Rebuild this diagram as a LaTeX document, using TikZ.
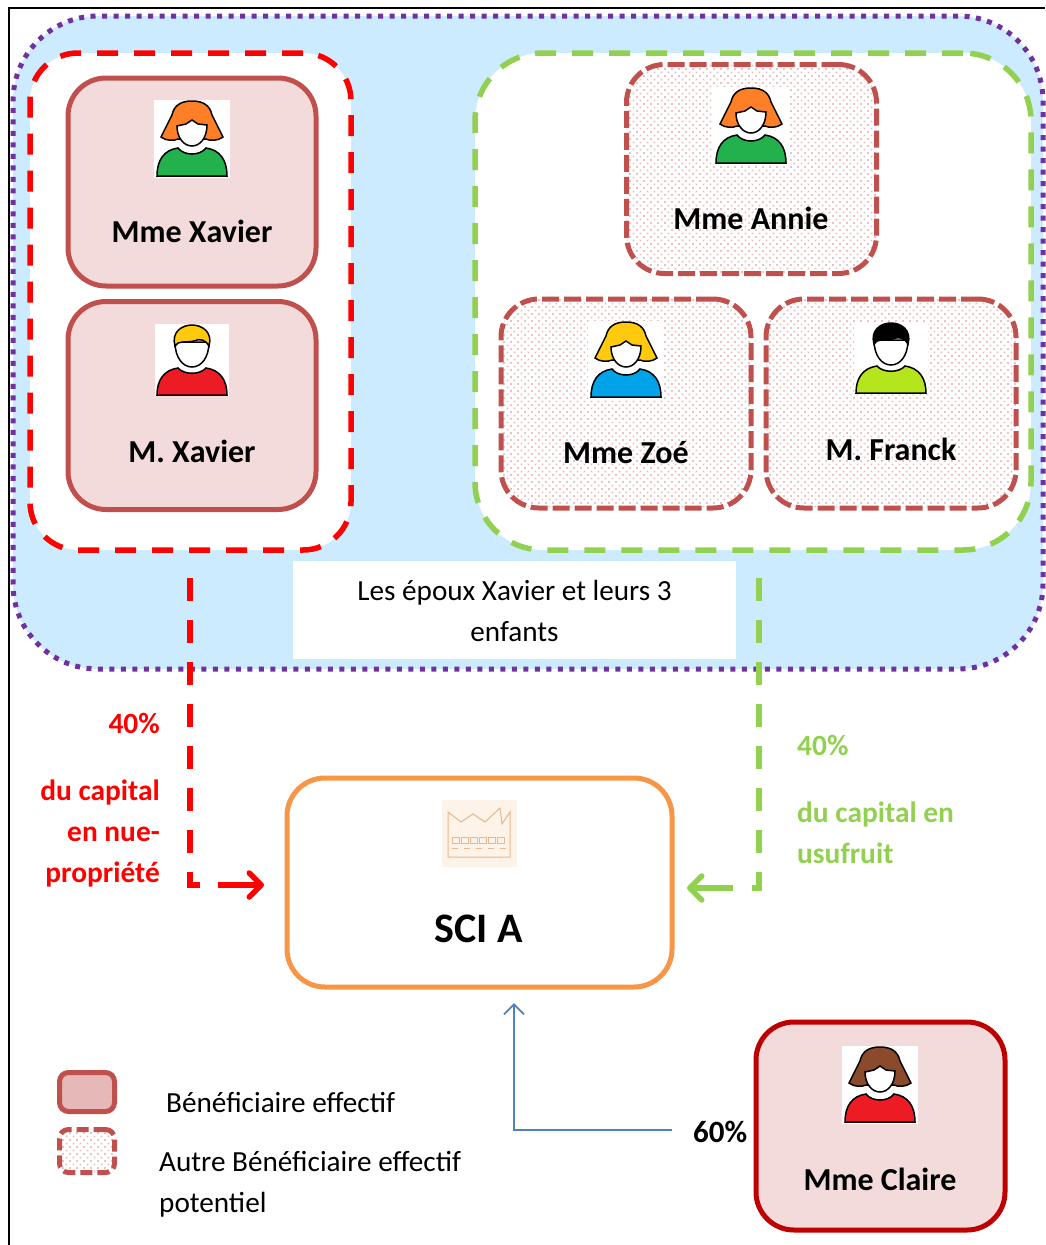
\documentclass[tikz,border=0pt]{standalone}
\usepackage{fontspec}
\setmainfont{Carlito}
\usetikzlibrary{arrows.meta,patterns.meta}
\definecolor{ciel}{HTML}{CCEBFF}
\definecolor{violet}{HTML}{7030A0}
\definecolor{vert}{HTML}{92D050}
\definecolor{brique}{HTML}{C0504D}
\definecolor{rose}{HTML}{F4DBDB}
\definecolor{orange}{HTML}{F79646}
\definecolor{bleu}{HTML}{4F81BD}
\definecolor{roux}{HTML}{FF7F27}
\definecolor{blond}{HTML}{FFC90E}
\definecolor{chatain}{HTML}{8B4A2B}
\definecolor{pullvert}{HTML}{22B14C}
\definecolor{pullrouge}{HTML}{ED1C24}
\definecolor{pullbleu}{HTML}{00A2E8}
\definecolor{pullanis}{HTML}{B5E61D}
\tikzset{
  family/.style={draw,fill=white,line width=5.5pt,rounded corners=48pt,dash pattern=on 21pt off 16pt,inner sep=0pt},
  solidbox/.style={draw=brique,fill=rose,line width=5pt,rounded corners=38pt,minimum width=248pt,minimum height=208pt,inner sep=0pt},
  dotbox/.style={draw=brique,line width=5pt,rounded corners=38pt,minimum width=250pt,minimum height=209pt,inner sep=0pt,dash pattern=on 17pt off 5pt,
    preaction={fill=white},preaction={pattern={Dots[distance=4.95pt,angle=45,radius=1.3pt]},pattern color=brique!35}},
  namelabel/.style={font=\bfseries\fontsize{32}{32}\selectfont,inner sep=0pt},
  plain/.style={font=\fontsize{29.2}{41}\selectfont,inner sep=0pt},
  share/.style={font=\bfseries\fontsize{29.4}{41}\selectfont,inner sep=0pt},
  link/.style={line width=5.5pt,dash pattern=on 23pt off 19pt},
  head/.style={line width=5.5pt,-{Straight Barb[length=12pt,width=24pt,round]}}
}
\begin{document}
\begin{tikzpicture}[x=1pt,y=-1pt]
% #1 centre, #2 top, #3 hair, #4 shirt
\newcommand{\Woman}[4]{
  \begin{scope}[shift={(#1,#2)},draw=black,line width=1.5pt]
    \fill[white] (-38,0) rectangle (38,78);
    \draw[fill=#3] (0,1) .. controls (-12,1) and (-18,6) .. (-20,15) -- (-31,37) .. controls (-26,41) and (-18,41) .. (-14,39) -- (14,39) .. controls (18,41) and (26,41) .. (31,37) -- (20,15) .. controls (18,6) and (12,1) .. (0,1) -- cycle;
    \draw[fill=white] (-15,26) -- (-6,24) -- (0,20) -- (6,24) -- (15,25) .. controls (15,38) and (8,46) .. (0,46) .. controls (-8,46) and (-15,38) .. (-15,26) -- cycle;
    \draw[fill=#4] (-35,76) .. controls (-35,60) and (-28,50) .. (-14,48) .. controls (-8,56) and (8,56) .. (14,48) .. controls (28,50) and (35,60) .. (35,76) -- cycle;
  \end{scope}
}
\newcommand{\Man}[4]{
  \begin{scope}[shift={(#1,#2)},draw=black,line width=1.5pt]
    \fill[white] (-37,0) rectangle (37,72);
    \draw[fill=white] (-17,18) .. controls (-17,34) and (-9,43) .. (0,43) .. controls (9,43) and (17,34) .. (17,18) -- cycle;
    \draw[fill=#3] (-17,22) .. controls (-21,8) and (-10,1) .. (0,1) .. controls (10,1) and (21,8) .. (17,22) .. controls (14,16) and (8,14) .. (2,17) .. controls (-6,19) and (-14,16) .. (-17,22) -- cycle;
    \draw[fill=#4] (-35,71) .. controls (-35,56) and (-28,46) .. (-14,44) .. controls (-8,51) and (8,51) .. (14,44) .. controls (28,46) and (35,56) .. (35,71) -- cycle;
  \end{scope}
}
\useasboundingbox (0,0) rectangle (1045,1245);
\fill[white] (0,0) rectangle (1045,1245);
\draw[line width=2.5pt] (9,1245) -- (9,8) -- (1045,8);

% the family group
\node[draw=violet,fill=ciel,line width=5pt,rounded corners=85pt,dash pattern=on 5pt off 6.5pt,minimum width=1030pt,minimum height=653pt] (famille) at (528,342.5) {};
\node[family,draw=red,minimum width=321pt,minimum height=497pt] (parents) at (190.5,301.5) {};
\node[family,draw=vert,rounded corners=68pt,minimum width=556pt,minimum height=497pt] (enfants) at (753,301.5) {};
\node[fill=white,minimum width=443pt,minimum height=98pt,inner sep=0pt] (epoux) at (514.5,610) {};
\node[plain,align=center] (epouxtext) at (514.5,611) {Les époux Xavier et leurs 3\\enfants};

\foreach \nm/\cx/\cy in {mmexavier/192/182,mxavier/192/405.5}
  \node[solidbox] (\nm) at (\cx,\cy) {};
\foreach \nm/\cx/\cy in {annie/751.5/169,zoe/626/403.5,franck/891/403.5}
  \node[dotbox] (\nm) at (\cx,\cy) {};
\node[solidbox,draw=red!75!black,minimum width=249pt] (claire) at (880.5,1126) {};

\Woman{192}{100}{roux}{pullvert}
\Man{192}{324}{blond}{pullrouge}
\Woman{751}{87}{roux}{pullvert}
\Woman{626}{321}{blond}{pullbleu}
\Man{891}{322}{black}{pullanis}
\Woman{880}{1046}{chatain}{pullrouge}

\foreach \nm/\txt/\cx/\cy in {a/Mme Xavier/192/231,b/M. Xavier/192/451,c/Mme Annie/751/218,d/Mme Zoé/626/453,e/M. Franck/891/449,f/Mme Claire/880/1179}
  \node[namelabel] (label\nm) at (\cx,\cy) {\txt};

% the company
\node[draw=orange,fill=white,line width=5pt,rounded corners=38pt,minimum width=385pt,minimum height=209pt] (sci) at (479.5,882.5) {};
\node[font=\bfseries\fontsize{42}{42}\selectfont,inner sep=0pt] (scitext) at (479,929) {SCI A};
\begin{scope}[shift={(442,800)},draw=brown!60!orange!60,line width=1pt]
  \fill[orange!12] (0,0) rectangle (75,67);
  \draw (6,57) -- (6,12) -- (19,22) -- (31,14) -- (43,22) -- (58,8) -- (60,24) -- (68,12) -- (68,57) -- cycle;
  \foreach \x in {10,19,...,55} \draw (\x,37) rectangle ++(7,6);
  \foreach \x in {10,22,...,58} \draw (\x,48) -- ++(6,0);
\end{scope}

% the links
\coordinate (redstart) at (190,578);
\coordinate (redturn) at (200,885);
\coordinate (redtail) at (218,885);
\coordinate (redtip) at (264,885);
\draw[link,red] (redstart) |- (redturn);
\draw[head,red] (redtail) -- (redtip);
\coordinate (greenstart) at (759,578);
\coordinate (greenturn) at (750,888);
\coordinate (greentail) at (733,888);
\coordinate (greentip) at (687,888);
\draw[link,vert] (greenstart) |- (greenturn);
\draw[head,vert] (greentail) -- (greentip);
\node[font=\bfseries\fontsize{31}{31}\selectfont,inner sep=0pt,anchor=west] (pctclaire) at (693,1132) {60\%};
\coordinate (bluetip) at (514,1003);
\draw[bleu,line width=1.8pt,-{Straight Barb[length=10pt,width=20pt]}] ([xshift=-21pt,yshift=2pt]pctclaire.west) -| (bluetip);

% share labels
\node[share,red,anchor=east] (redpct) at (160,723) {40\%};
\node[share,red,align=right,anchor=east] (redtext) at (160,833) {du capital\\en nue-\\propriété};
\node[share,vert,anchor=west] (greenpct) at (797,745) {40\%};
\node[share,vert,align=left,anchor=west] (greentext) at (797,833) {du capital en\\usufruit};

% legend
\node[solidbox,fill=brique!40,rounded corners=9pt,minimum width=55pt,minimum height=39pt] (legendsolid) at (87,1092) {};
\node[dotbox,rounded corners=9pt,minimum width=55pt,minimum height=43pt,dash pattern=on 12pt off 5pt] (legenddots) at (87,1151) {};
\node[plain,anchor=west] (legendone) at (166,1102) {Bénéficiaire effectif};
\node[plain,align=left,anchor=west] (legendtwo) at (159,1184) {Autre Bénéficiaire effectif\\potentiel};
\end{tikzpicture}
\end{document}
